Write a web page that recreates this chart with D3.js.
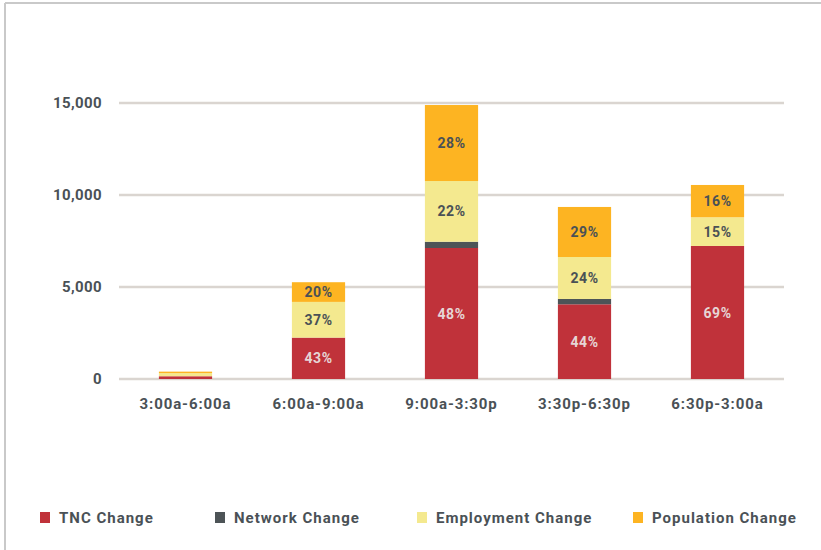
<!DOCTYPE html>
<html>
<head>
<meta charset="utf-8">
<script src="https://cdn.jsdelivr.net/npm/d3@7/dist/d3.min.js"></script>
<style>
  body { margin: 0; background: #fff; }
  svg { display: block; font-family: Roboto, "DejaVu Sans", sans-serif; }
</style>
</head>
<body>
<svg id="chart" width="821" height="550"></svg>
<script>
// time periods along the x axis
const periods = ['3:00a-6:00a', '6:00a-9:00a', '9:00a-3:30p', '3:30p-6:30p', '6:30p-3:00a'];

// stacked components (bottom to top)
const seriesNames = ['TNC Change', 'Network Change', 'Employment Change', 'Population Change'];
const tncChange = [150, 2250, 7120, 4060, 7230];
const networkChange = [0, 0, 340, 290, 0];
const employmentChange = [170, 1940, 3300, 2280, 1560];
const populationChange = [80, 1070, 4130, 2720, 1755];

// labels printed on the segments (null = no label)
const tncLabels = [null, '43%', '48%', '44%', '69%'];
const networkLabels = [null, null, null, null, null];
const employmentLabels = [null, '37%', '22%', '24%', '15%'];
const populationLabels = [null, '20%', '28%', '29%', '16%'];

const yTicks = [0, 5000, 10000, 15000];

const colors = ['#c0323a', '#4d5457', '#f4e98f', '#fdb422'];
const textColors = ['#e6d6d6', '#e6d6d6', '#4a5156', '#4a5156'];

const values = [tncChange, networkChange, employmentChange, populationChange];
const labels = [tncLabels, networkLabels, employmentLabels, populationLabels];

const rows = periods.map((p, i) => {
  const r = { period: p };
  seriesNames.forEach((s, k) => { r[s] = values[k][i]; });
  return r;
});

const svg = d3.select('#chart');

// thin frame on the left and top edges
svg.append('line').attr('x1', 5).attr('x2', 5).attr('y1', 3).attr('y2', 550)
  .attr('stroke', '#c9c9c9').attr('stroke-width', 2);
svg.append('line').attr('x1', 5).attr('x2', 821).attr('y1', 3).attr('y2', 3)
  .attr('stroke', '#c9c9c9').attr('stroke-width', 2);

const x = d3.scaleBand().domain(periods).range([119, 784]).paddingInner(0.6).paddingOuter(0.3);
const y = d3.scaleLinear().domain([0, 15000]).range([379, 103]);

// gridlines
svg.append('g')
  .selectAll('line')
  .data(yTicks)
  .join('line')
  .attr('x1', 119)
  .attr('x2', 784)
  .attr('y1', d => y(d))
  .attr('y2', d => y(d))
  .attr('stroke', '#dad5d0')
  .attr('stroke-width', 2.5);

// y axis labels
const yAxis = svg.append('g')
  .attr('transform', 'translate(102,0)')
  .call(d3.axisLeft(y).tickValues(yTicks).tickFormat(d3.format(',')).tickSize(0).tickPadding(0));
yAxis.select('.domain').remove();
yAxis.selectAll('text')
  .attr('font-family', 'Roboto, sans-serif')
  .attr('font-size', 15)
  .attr('font-weight', 700)
  .attr('letter-spacing', 0.4)
  .attr('fill', '#4a5156');

// x axis labels
const xAxis = svg.append('g')
  .attr('transform', 'translate(0,379)')
  .call(d3.axisBottom(x).tickSize(0).tickPadding(19));
xAxis.select('.domain').remove();
xAxis.selectAll('text')
  .attr('font-family', 'Roboto, sans-serif')
  .attr('font-size', 15)
  .attr('font-weight', 700)
  .attr('letter-spacing', 0.9)
  .attr('fill', '#4a5156');

const stacked = d3.stack().keys(seriesNames)(rows);

const layers = svg.append('g')
  .selectAll('g')
  .data(stacked)
  .join('g')
  .attr('fill', (d, k) => colors[k]);

layers.selectAll('rect')
  .data(d => d)
  .join('rect')
  .attr('x', d => x(d.data.period))
  .attr('width', x.bandwidth())
  .attr('y', d => y(d[1]))
  .attr('height', d => y(d[0]) - y(d[1]));

// percentage labels
stacked.forEach((layer, k) => {
  svg.append('g')
    .selectAll('text')
    .data(layer.filter((d, i) => labels[k][i] !== null).map(d => ({ d, text: labels[k][periods.indexOf(d.data.period)] })))
    .join('text')
    .attr('x', o => x(o.d.data.period) + x.bandwidth() / 2)
    .attr('y', o => (y(o.d[0]) + y(o.d[1])) / 2)
    .attr('dy', '0.36em')
    .attr('text-anchor', 'middle')
    .attr('font-size', 14)
    .attr('font-weight', 700)
    .attr('letter-spacing', 0.6)
    .attr('fill', textColors[k])
    .text(o => o.text);
});

// legend
const legendX = [40, 215, 417, 633];
const legend = svg.append('g')
  .selectAll('g')
  .data(seriesNames)
  .join('g')
  .attr('transform', (d, k) => `translate(${legendX[k]},512)`);
legend.append('rect')
  .attr('width', 10)
  .attr('height', 11)
  .attr('fill', (d, k) => colors[k]);
legend.append('text')
  .attr('x', 19)
  .attr('y', 5.5)
  .attr('dy', '0.36em')
  .attr('font-size', 15)
  .attr('font-weight', 700)
  .attr('letter-spacing', 1)
  .attr('fill', '#4a5156')
  .text(d => d);
</script>
</body>
</html>
